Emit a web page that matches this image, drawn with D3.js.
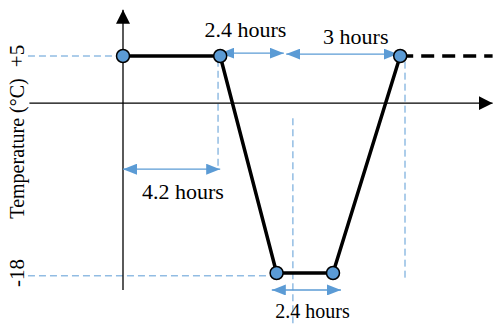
<!DOCTYPE html>
<html>
<head>
<meta charset="utf-8">
<script src="https://cdn.jsdelivr.net/npm/d3@7"></script>
<style>
  body { margin: 0; background: #fff; }
  text { font-family: "Liberation Serif", "Times New Roman", serif; fill: #000; }
</style>
</head>
<body>
<div id="vis"></div>
<script>
// Profile points (hours, degC)
var hours = [0, 4.05, 6.4, 8.75, 11.55];
var temps = [5, 5, -18, -18, 5];
var tailHours = [11.55, 15.4];

// Temperature tick labels
var tickTemps = [5, -18];
var tickLabels = ['+5', '-18'];

// Duration annotations: from, to (hours), level (degC), label, label centre (hours), label level
var spanFrom = [0, 4.05, 6.8, 6.2];
var spanTo = [4.05, 6.7, 11.45, 9.08];
var spanLevel = [-7, 5.3, 5.2, -19.8];
var spanText = ['4.2 hours', '2.4 hours', '3 hours', '2.4 hours'];
var spanTextAt = [2.5, 5.1, 9.7, 7.9];
var spanTextLevel = [-10.2, 7, 6.3, -22.8];

// Guide lines (dashed blue)
var vGuideAt = [3.96, 7.08, 11.75];
var vGuideFrom = [4.6, -1.6, 4.4];
var vGuideTo = [-6.8, -23.4, -18.7];
var hGuideAt = [5, -18.3];
var hGuideFrom = [-3.96, -3.96];
var hGuideTo = [-0.33, 6.2];

var width = 493, height = 324;
var blue = '#5b9bd5';
var serif = '"Liberation Serif", "Times New Roman", serif';

var x = d3.scaleLinear().domain([0, 16]).range([123, 123 + 16 * 24]);
var y = d3.scaleLinear().domain([-18, 5]).range([273, 56]);

var svg = d3.select('#vis').append('svg')
  .attr('width', width)
  .attr('height', height);

var defs = svg.append('defs');
function marker(id, color, w, h) {
  defs.append('marker')
    .attr('id', id)
    .attr('viewBox', '0 0 ' + w + ' ' + h)
    .attr('refX', w).attr('refY', h / 2)
    .attr('markerUnits', 'userSpaceOnUse')
    .attr('markerWidth', w).attr('markerHeight', h)
    .attr('orient', 'auto-start-reverse')
    .append('path')
    .attr('d', 'M0,0L' + w + ',' + (h / 2) + 'L0,' + h + 'Z')
    .attr('fill', color);
}
marker('axArrow', '#000', 14, 14);
marker('blueArrow', blue, 14, 11);

// guides
svg.selectAll('.vguide').data(vGuideAt).enter().append('line')
  .attr('x1', function (d) { return x(d); })
  .attr('x2', function (d) { return x(d); })
  .attr('y1', function (d, i) { return y(vGuideFrom[i]); })
  .attr('y2', function (d, i) { return y(vGuideTo[i]); })
  .attr('stroke', blue).attr('stroke-width', 1).attr('stroke-dasharray', '7,4');

svg.selectAll('.hguide').data(hGuideAt).enter().append('line')
  .attr('y1', function (d) { return y(d); })
  .attr('y2', function (d) { return y(d); })
  .attr('x1', function (d, i) { return x(hGuideFrom[i]); })
  .attr('x2', function (d, i) { return x(hGuideTo[i]); })
  .attr('stroke', blue).attr('stroke-width', 1).attr('stroke-dasharray', '7,4');

// axes
svg.append('line')
  .attr('x1', x(-3.9)).attr('x2', x(15.4))
  .attr('y1', y(0)).attr('y2', y(0))
  .attr('stroke', '#000').attr('stroke-width', 1.3)
  .attr('marker-end', 'url(#axArrow)');
svg.append('line')
  .attr('x1', x(0)).attr('x2', x(0))
  .attr('y1', y(-19.8)).attr('y2', y(9.9))
  .attr('stroke', '#000').attr('stroke-width', 1.3)
  .attr('marker-end', 'url(#axArrow)');

// duration arrows
svg.selectAll('.span').data(spanFrom).enter().append('line')
  .attr('x1', function (d) { return x(d); })
  .attr('x2', function (d, i) { return x(spanTo[i]); })
  .attr('y1', function (d, i) { return y(spanLevel[i]); })
  .attr('y2', function (d, i) { return y(spanLevel[i]); })
  .attr('stroke', blue).attr('stroke-width', 1.3)
  .attr('marker-start', 'url(#blueArrow)')
  .attr('marker-end', 'url(#blueArrow)');

svg.selectAll('.spanText').data(spanText).enter().append('text')
  .attr('x', function (d, i) { return x(spanTextAt[i]); })
  .attr('y', function (d, i) { return y(spanTextLevel[i]); })
  .attr('text-anchor', 'middle')
  .attr('font-family', serif)
  .style('font-size', function (d, i) { return i === 3 ? '20px' : '22px'; })
  .text(function (d) { return d; });

// profile line
var pts = hours.map(function (h, i) { return [x(h), y(temps[i])]; });
svg.append('path')
  .attr('d', d3.line()(pts))
  .attr('fill', 'none').attr('stroke', '#000').attr('stroke-width', 3.5)
  .attr('stroke-linejoin', 'miter');
svg.append('line')
  .attr('x1', x(tailHours[0])).attr('x2', x(tailHours[1]))
  .attr('y1', y(5)).attr('y2', y(5))
  .attr('stroke', '#000').attr('stroke-width', 3.5)
  .attr('stroke-dasharray', '13,8');

svg.selectAll('circle').data(pts).enter().append('circle')
  .attr('cx', function (d) { return d[0]; })
  .attr('cy', function (d) { return d[1]; })
  .attr('r', 6.5)
  .attr('fill', blue).attr('stroke', '#000').attr('stroke-width', 1.5);

// y labels
svg.selectAll('.tick').data(tickTemps).enter().append('text')
  .attr('transform', function (d) { return 'translate(24,' + y(d) + ') rotate(-90)'; })
  .attr('text-anchor', 'middle')
  .attr('font-family', serif)
  .style('font-size', '21px')
  .text(function (d, i) { return tickLabels[i]; });

svg.append('text')
  .attr('transform', 'translate(24,' + y(-4.8) + ') rotate(-90)')
  .attr('text-anchor', 'middle')
  .attr('font-family', serif)
  .style('font-size', '20px')
  .text('Temperature (°C)');
</script>
</body>
</html>
